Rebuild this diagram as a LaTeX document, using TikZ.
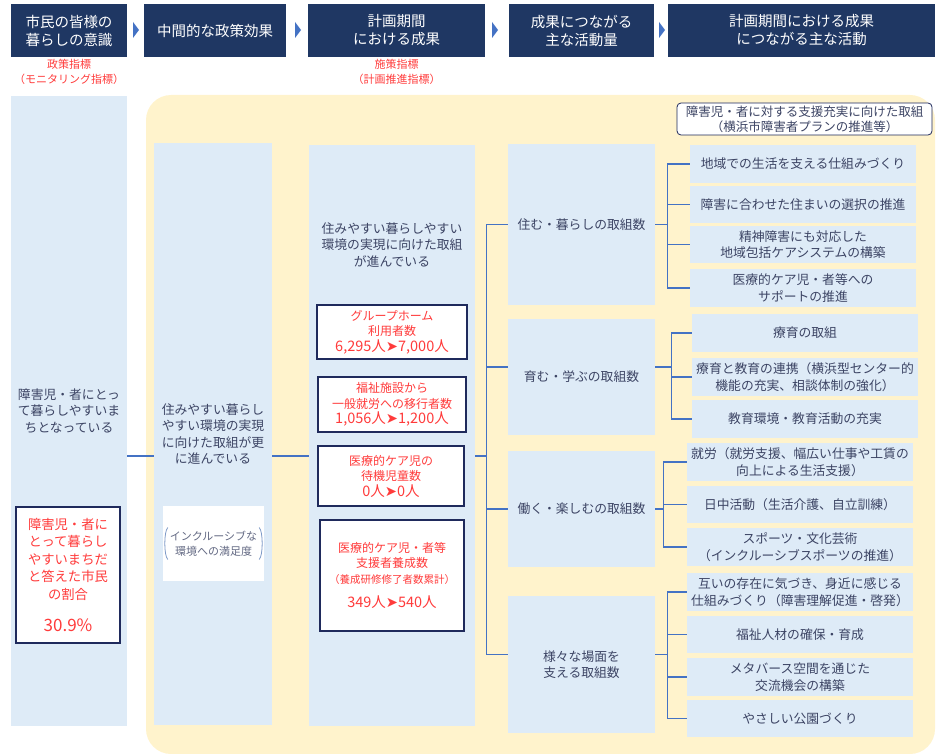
\documentclass[tikz,border=0pt]{standalone}
\usepackage{fontspec}
\setmainfont{Noto Sans CJK JP}
\newfontfamily\symfont{DejaVu Sans}
\usepackage{xcolor}
\usepackage{tikz}
\usetikzlibrary{positioning,calc}

\definecolor{hdnavy}{HTML}{1F3763}
\definecolor{cellblue}{HTML}{DEEBF7}
\definecolor{panelyellow}{HTML}{FFF3CC}
\definecolor{linkblue}{HTML}{4472C4}
\definecolor{redtxt}{HTML}{FF3B3B}
\definecolor{darktxt}{HTML}{3C4464}
\definecolor{boxnavy}{HTML}{1F2A5C}
\definecolor{parenblue}{HTML}{7F9BC8}

\newcommand{\fnhead}{\fontsize{14.5}{18}\selectfont}
\newcommand{\fnbody}{\fontsize{12.8}{16.5}\selectfont}
\newcommand{\fnred}{\fontsize{12}{15.5}\selectfont}
\newcommand{\fnsmall}{\fontsize{11}{14.5}\selectfont}
\newcommand{\fnnum}{\fontsize{14.5}{15.5}\selectfont}
\newcommand{\upto}{{\symfont ➤}}

\begin{document}
\begin{tikzpicture}[
x=1pt, y=-1pt,
font=\fnbody,
hd/.style={fill=hdnavy, text=white, font=\fnhead, align=center, minimum height=53, inner sep=0pt},
hdarrow/.style={fill=linkblue},
tag/.style={text=redtxt, font=\fnsmall, align=center, inner sep=0pt},
col/.style={fill=cellblue, text=darktxt, align=center, inner sep=0pt},
cat/.style={col, minimum width=147},
item/.style={col, minimum height=37.5, inner sep=1pt},
redbox/.style={draw=boxnavy, line width=2.2pt, fill=white, text=redtxt, font=\fnred, align=center, inner sep=0pt},
conn/.style={draw=linkblue, line width=1.3pt}
]
\useasboundingbox (0,0) rectangle (948,754);

% Header row
\node[hd, minimum width=116] (h1) at (69,30.5) {市民の皆様の\\暮らしの意識};
\node[hd, minimum width=142] (h2) at (215,30.5) {中間的な政策効果};
\node[hd, minimum width=177] (h3) at (396.5,30.5) {計画期間\\における成果};
\node[hd, minimum width=145] (h4) at (581.5,30.5) {成果につながる\\主な活動量};
\node[hd, minimum width=267] (h5) at (801.5,30.5) {計画期間における成果\\につながる主な活動};

\foreach \ax in {133,295,492,659}
  \fill[hdarrow] (\ax,22) -- ++(6,8) -- ++(-6,8) -- cycle;

\node[tag, below=2pt of h1] (tag1) {政策指標\\（モニタリング指標）};
\node[tag, below=2pt of h3] (tag3) {施策指標\\（計画推進指標）};

% Yellow panel
\fill[panelyellow, rounded corners=25] (146,95) rectangle (935,754);

% Columns
\node[col, minimum width=116, minimum height=630] (col1) at (69,411)
{障害児・者にとっ\\て暮らしやすいま\\ちとなっている};
\node[col, minimum width=118, minimum height=582] (col2) at (213,434)
{住みやすい暮らし\\やすい環境の実現\\に向けた取組が更\\に進んでいる};
\node[col, minimum width=166, minimum height=581] (col3) at (392,435.5) {};
\node[text=darktxt, align=center] (col3txt) at (392,245)
{住みやすい暮らしやすい\\環境の実現に向けた取組\\が進んでいる};

% Indicator boxes
\node[redbox, font=\fontsize{13.3}{17.5}\selectfont, minimum width=104, minimum height=136] (rate) at (68,575)
{障害児・者に\\とって暮らし\\やすいまちだ\\と答えた市民\\の割合\\[15pt]{\fontsize{17}{17}\selectfont 30.9\%}};

\node[fill=white, text=darktxt!80, font=\fnsmall, align=center, minimum width=101, minimum height=75, inner sep=0pt] (sat) at (213.5,543.5)
{インクルーシブな\\環境への満足度};
\draw[parenblue, line width=0.8pt] ($(sat.west)+(5,-16)$) .. controls ($(sat.west)+(1,-12)$) and ($(sat.west)+(1,12)$) .. ($(sat.west)+(5,16)$);
\draw[parenblue, line width=0.8pt] ($(sat.east)+(-5,-16)$) .. controls ($(sat.east)+(-1,-12)$) and ($(sat.east)+(-1,12)$) .. ($(sat.east)+(-5,16)$);

\node[redbox, minimum width=150, minimum height=54] (r1) at (392,332)
{グループホーム\\利用者数\\{\fnnum 6,295人\upto7,000人}};
\node[redbox, minimum width=148, minimum height=55] (r2) at (392,404.5)
{福祉施設から\\一般就労への移行者数\\{\fnnum 1,056人\upto1,200人}};
\node[redbox, minimum width=146, minimum height=60] (r3) at (391,476)
{医療的ケア児の\\待機児童数\\{\fnnum 0人\upto0人}};
\node[redbox, minimum width=144, minimum height=111] (r4) at (392,575.5)
{医療的ケア児・者等\\支援者養成数\\{\fontsize{10.5}{13}\selectfont（養成研修修了者数累計）}\\[9pt]{\fnnum 349人\upto540人}};

% Links between columns
\coordinate (lnk) at (0,456);
\draw[conn] (col1.east |- lnk) -- (col2.west |- lnk);
\draw[conn] (col2.east |- lnk) -- (col3.west |- lnk);
\draw[conn] (col3.east |- lnk) -- ++(12,0);

% Activity categories
\node[cat, minimum height=161] (cat1) at (581.5,224.5) {住む・暮らしの取組数};
\node[cat, minimum height=116] (cat2) at (581.5,377) {育む・学ぶの取組数};
\node[cat, minimum height=116] (cat3) at (581.5,509) {働く・楽しむの取組数};
\node[cat, minimum height=137] (cat4) at (581.5,664.5) {様々な場面を\\支える取組数};

\draw[conn] (cat1.west) -- ++(-21,0) |- ($(cat4.west)+(0,-10)$);
\draw[conn] ($(cat2.west)+(0,-10)$) -- ++(-21,0);
\draw[conn] (cat3.west) -- ++(-21,0);

% Note
\node[draw=boxnavy, line width=0.8pt, rounded corners=4, fill=white, text=darktxt, align=center, minimum width=255, minimum height=32, inner sep=0pt, font=\fontsize{12.5}{15}\selectfont] (note) at (804.5,119)
{障害児・者に対する支援充実に向けた取組\\（横浜市障害者プランの推進等）};

% Main activities
\node[item, minimum width=226] (i1) at (803,164) {地域での生活を支える仕組みづくり};
\node[item, minimum width=226] (i2) at (803,204.5) {障害に合わせた住まいの選択の推進};
\node[item, minimum width=226] (i3) at (803,244.5) {精神障害にも対応した\\地域包括ケアシステムの構築};
\node[item, minimum width=226] (i4) at (803,288) {医療的ケア児・者等への\\サポートの推進};

\node[item, minimum width=226] (j1) at (805,333) {療育の取組};
\node[item, minimum width=226] (j2) at (805,377) {療育と教育の連携（横浜型センター的\\機能の充実、相談体制の強化）};
\node[item, minimum width=226] (j3) at (805,419) {教育環境・教育活動の充実};

\node[item, minimum width=226] (k1) at (800,462) {就労（就労支援、幅広い仕事や工賃の\\向上による生活支援）};
\node[item, minimum width=226] (k2) at (800,504.5) {日中活動（生活介護、自立訓練）};
\node[item, minimum width=226] (k3) at (800,547) {スポーツ・文化芸術\\（インクルーシブスポーツの推進）};

\node[item, minimum width=226] (l1) at (800,592) {互いの存在に気づき、身近に感じる\\仕組みづくり（障害理解促進・啓発）};
\node[item, minimum width=226] (l2) at (800,634.5) {福祉人材の確保・育成};
\node[item, minimum width=226] (l3) at (800,677) {メタバース空間を通じた\\交流機会の構築};
\node[item, minimum width=226] (l4) at (800,718.5) {やさしい公園づくり};

% Brackets
\draw[conn] (i1.west) -- ++(-22,0) |- (i4.west);
\draw[conn] (i2.west) -- ++(-22,0);
\draw[conn] (i3.west) -- ++(-22,0);
\draw[conn] (cat1.east) -- ++(13,0);

\draw[conn] (j1.west) -- ++(-20,0) |- (j3.west);
\draw[conn] (j2.west) -- ++(-20,0);
\draw[conn] ($(cat2.east)+(0,-10)$) -- ++(17,0);

\draw[conn] (k1.west) -- ++(-23,0) |- (k3.west);
\draw[conn] (k2.west) -- ++(-23,0);
\draw[conn] (cat3.east) -- ++(9,0);

\draw[conn] (l1.west) -- ++(-19,0) |- (l4.west);
\draw[conn] (l2.west) -- ++(-19,0);
\draw[conn] (l3.west) -- ++(-19,0);
\draw[conn] ($(cat4.east)+(0,-10)$) -- ++(13,0);

\end{tikzpicture}
\end{document}
